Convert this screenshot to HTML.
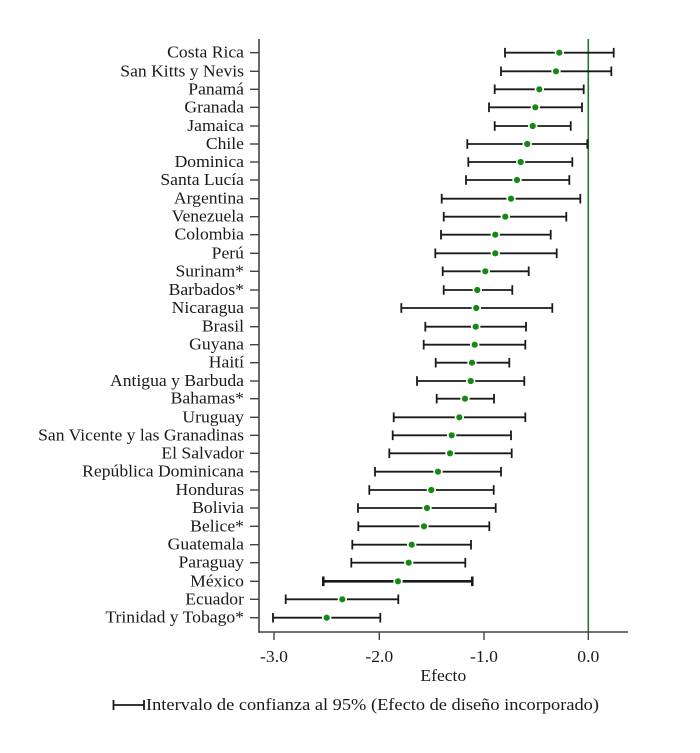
<!DOCTYPE html>
<html><head><meta charset="utf-8"><style>
html,body{margin:0;padding:0;background:#fff;}
svg{display:block;}
text{font-family:"Liberation Serif",serif;fill:#1a1a1a;}
</style></head><body>
<svg id="s" width="700" height="753" viewBox="0 0 700 753" xmlns="http://www.w3.org/2000/svg">
<rect width="700" height="753" fill="#fff"/>
<line x1="588.3" y1="39" x2="588.3" y2="632" stroke="#1f7a1f" stroke-width="1.6"/>
<line x1="259" y1="39" x2="259" y2="632.8" stroke="#444" stroke-width="1.6"/>
<line x1="258.2" y1="632" x2="628" y2="632" stroke="#444" stroke-width="1.6"/>
<g stroke="#444" stroke-width="1.4">
<line x1="274" y1="632" x2="274" y2="640"/>
<line x1="379.3" y1="632" x2="379.3" y2="640"/>
<line x1="484" y1="632" x2="484" y2="640"/>
<line x1="588.3" y1="632" x2="588.3" y2="640"/>
</g>
<g font-size="16.5" text-anchor="middle">
<text class="st" x="274" y="662">-3.0</text>
<text class="st" x="379.3" y="662">-2.0</text>
<text class="st" x="484" y="662">-1.0</text>
<text class="st" x="588.3" y="662">0.0</text>
<text class="st" x="443.3" y="681">Efecto</text>
</g>
<g id="rows" font-size="16.5" text-anchor="end"></g>
<g stroke="#1a1a1a" stroke-width="1.8">
<line x1="113.5" y1="705" x2="144" y2="705"/>
<line x1="113.5" y1="700" x2="113.5" y2="710"/>
<line x1="144" y1="700" x2="144" y2="710"/>
</g>
<text x="146" y="710" font-size="16.5" textLength="453" lengthAdjust="spacingAndGlyphs">Intervalo de confianza al 95% (Efecto de diseño incorporado)</text>
</svg>
<script>
var d=[
["Costa Rica",52.7,505,559.3,613.7],
["San Kitts y Nevis",71.3,501,556,611.3],
["Panamá",89.3,494.7,539.3,583.7],
["Granada",107.3,489,535.3,582],
["Jamaica",126,494.7,532.7,570.7],
["Chile",144,467.3,527.3,587.3],
["Dominica",162,468.3,520.7,572.3],
["Santa Lucía",180,466,517,569.3],
["Argentina",198.7,441.7,511,580.3],
["Venezuela",216.7,443.7,505.3,566.3],
["Colombia",234.7,441,495.3,550.7],
["Perú",253.3,435.3,495.3,556.7],
["Surinam*",271.3,442.7,485.3,528.7],
["Barbados*",290,443.7,477.3,512.3],
["Nicaragua",308,401.3,476.3,552.3],
["Brasil",326.7,425.3,475.7,526],
["Guyana",344.7,423.7,474.7,525.3],
["Haití",362.7,435.7,472,509.3],
["Antigua y Barbuda",381,417,470.7,524.3],
["Bahamas*",398.7,436.7,465,494],
["Uruguay",417.3,393.7,459.3,525.3],
["San Vicente y las Granadinas",435.3,392.7,451.7,511],
["El Salvador",453.3,389.3,450,511.7],
["República Dominicana",471.7,375,438,501],
["Honduras",490,369.3,431.3,493.7],
["Bolivia",508,358,427,495.7],
["Belice*",526.3,358.3,424,489.3],
["Guatemala",544.7,352.3,411.7,471],
["Paraguay",562.7,351.3,408.7,465.3],
["México",581.3,323.3,398,472.3],
["Ecuador",599.3,285.7,342.3,398.3],
["Trinidad y Tobago*",617.7,273,326.7,380.3]
];
var ns="http://www.w3.org/2000/svg",g=document.getElementById("rows");
function el(t,a){var e=document.createElementNS(ns,t);for(var k in a)e.setAttribute(k,a[k]);g.appendChild(e);return e;}
d.forEach(function(r){
 var y=r[1],sw=(r[0]=="México")?2.6:1.8;
 var t=el("text",{x:244,y:y+5,"class":"st"});t.textContent=r[0];
 el("line",{x1:250,y1:y,x2:259,y2:y,stroke:"#444","stroke-width":1.4});
 el("line",{x1:r[2],y1:y,x2:r[4],y2:y,stroke:"#1a1a1a","stroke-width":sw});
 el("line",{x1:r[2],y1:y-4.8,x2:r[2],y2:y+4.8,stroke:"#1a1a1a","stroke-width":sw});
 el("line",{x1:r[4],y1:y-4.8,x2:r[4],y2:y+4.8,stroke:"#1a1a1a","stroke-width":sw});
 el("circle",{cx:r[3],cy:y,r:3.9,fill:"#128a12",stroke:"#fff","stroke-width":1.6});
});
var st=document.querySelectorAll(".st");
for(var i=0;i<st.length;i++){
 try{var L=st[i].getComputedTextLength();
 if(L>0){st[i].setAttribute("textLength",(L*1.067).toFixed(1));st[i].setAttribute("lengthAdjust","spacingAndGlyphs");}}catch(e){}
}
</script>
</body></html>
